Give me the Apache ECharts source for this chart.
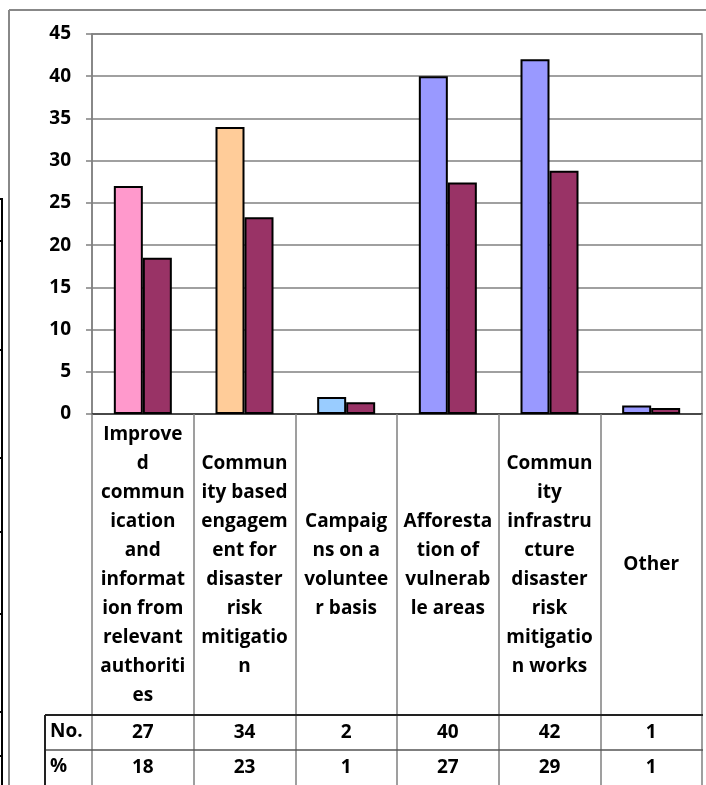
<!DOCTYPE html>
<html>
<head>
<meta charset="utf-8">
<script src="https://cdn.jsdelivr.net/npm/echarts@6/dist/echarts.min.js"></script>
<style>
html,body{margin:0;padding:0;background:#fff;}
#main{width:706px;height:785px;}
</style>
</head>
<body>
<div id="main"></div>
<script>
// ---- data ----
var categories = [
  "Improve\nd\ncommun\nication\nand\ninformat\nion from\nrelevant\nauthoriti\nes",
  "Commun\nity based\nengagem\nent for\ndisaster\nrisk\nmitigatio\nn",
  "Campaig\nns on a\nvoluntee\nr basis",
  "Afforesta\ntion of\nvulnerab\nle areas",
  "Commun\nity\ninfrastru\ncture\ndisaster\nrisk\nmitigatio\nn works",
  "Other"
];
var noValues = [27, 34, 2, 40, 42, 1];
var pctValues = [18.5, 23.3, 1.4, 27.4, 28.8, 0.7];
var noLabels = ["27", "34", "2", "40", "42", "1"];
var pctLabels = ["18", "23", "1", "27", "29", "1"];
var rowHeaders = ["No.", "%"];
var yTicks = {min: 0, max: 45, interval: 5};

// ---- styles ----
var noColors = ["#FF99CC", "#FFCC99", "#99CCFF", "#9999FF", "#9999FF", "#9999FF"];
var pctColor = "#993366";
var FONT = "Open Sans";
var FS = 19;

var chart = echarts.init(document.getElementById('main'), null, {renderer: 'canvas'});

var txt = {fontFamily: FONT, fontWeight: 'bold', fontSize: FS, color: '#000'};

function tableAxis(offset, labels) {
  return {
    type: 'category', gridIndex: 0, position: 'bottom', offset: offset,
    data: categories,
    axisLine: {show: false}, axisTick: {show: false}, splitLine: {show: false},
    axisLabel: Object.assign({}, txt, {
      interval: 0, margin: 17, verticalAlign: 'middle',
      formatter: function (v, i) { return labels[i]; }
    })
  };
}

var option = {
  backgroundColor: '#fff',
  animation: false,
  grid: {left: 92, right: 4, top: 34, bottom: 371, show: true, borderColor: '#808080', borderWidth: 1.5, backgroundColor: '#fff'},
  xAxis: [
    {
      type: 'category', data: categories,
      axisLine: {show: true, lineStyle: {color: '#333', width: 1.5}},
      axisTick: {show: true, interval: 0, length: 372, lineStyle: {color: '#808080', width: 1.5}},
      axisLabel: Object.assign({}, txt, {interval: 0, margin: 151, verticalAlign: 'middle', lineHeight: 29, align: 'center'}),
      splitLine: {show: false}
    },
    tableAxis(302, noLabels),
    tableAxis(337, pctLabels)
  ],
  yAxis: {
    type: 'value', min: yTicks.min, max: yTicks.max, interval: yTicks.interval,
    axisLine: {show: true, lineStyle: {color: '#808080', width: 1.5}},
    axisTick: {show: true, length: 6, lineStyle: {color: '#808080', width: 1.5}},
    axisLabel: Object.assign({}, txt, {margin: 21}),
    splitLine: {show: true, lineStyle: {color: '#808080', width: 1.5}}
  },
  series: [
    {
      name: 'No.', type: 'bar', barWidth: 29, barGap: '0%',
      data: noValues.map(function (v, i) { return {value: v, itemStyle: {color: noColors[i]}}; }),
      itemStyle: {borderColor: '#000', borderWidth: 2}
    },
    {
      name: '%', type: 'bar', barWidth: 29, barGap: '0%',
      data: pctValues,
      itemStyle: {color: pctColor, borderColor: '#000', borderWidth: 2}
    }
  ],
  graphic: []
};

// decorative frame + table grid lines
var g = [];
function line(x1, y1, x2, y2, c, w) {
  g.push({type: 'line', silent: true, shape: {x1: x1, y1: y1, x2: x2, y2: y2}, style: {stroke: c, lineWidth: w}, z: 100});
}
// outer frame
line(9, 10, 706, 10, '#888', 2);
line(9, 10, 9, 785, '#888', 2);
// left fragment of neighbouring table
line(2, 199, 2, 785, '#000', 2);
[199, 241, 350, 458, 532, 614, 712, 756].forEach(function (y) { line(0, y, 3, y, '#000', 2); });
// table rows
line(45, 715, 703, 715, '#222', 2);
line(45, 750, 703, 750, '#555', 1.5);
line(45, 715, 45, 785, '#222', 2);
rowHeaders.forEach(function (h, i) {
  g.push({type: 'text', x: 50, y: 732 + i * 35, style: {text: h, font: 'bold ' + FS + 'px ' + FONT, fill: '#000', verticalAlign: 'middle', align: 'left'}, z: 100});
});
option.graphic = g;

chart.setOption(option);
</script>
</body>
</html>
